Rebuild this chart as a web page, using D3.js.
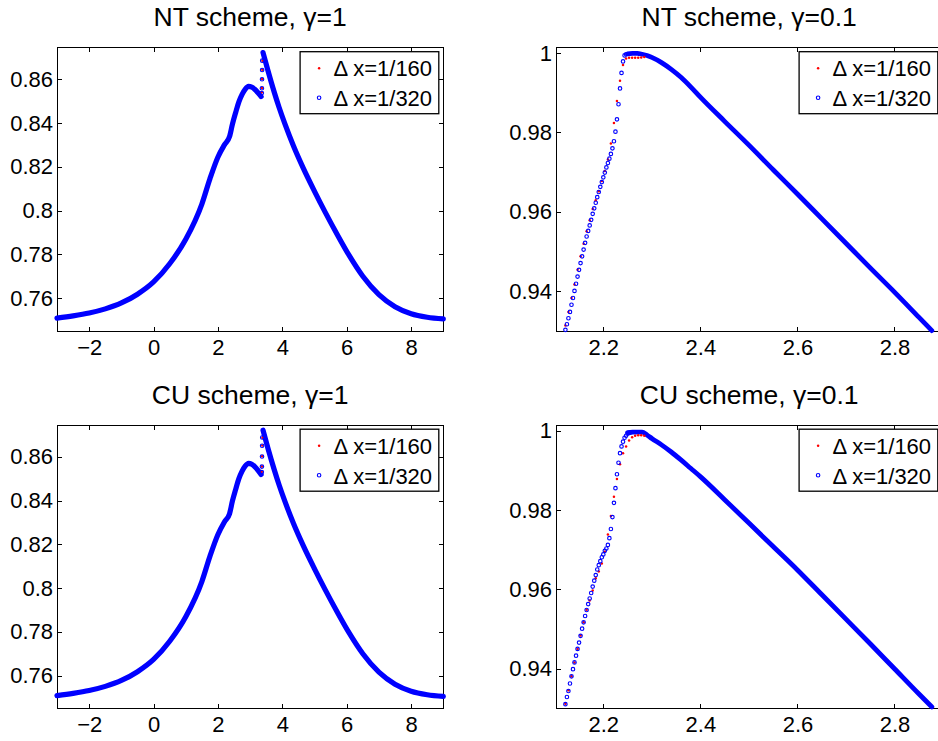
<!DOCTYPE html>
<html><head><meta charset="utf-8">
<script src="https://cdn.jsdelivr.net/npm/d3@7"></script>
<style>
html,body{margin:0;padding:0;background:#fff;}
svg{display:block;font-family:"Liberation Sans",Arial,Helvetica,sans-serif;}
</style></head><body>
<svg id="chart" width="938" height="741"></svg>
<script>
// ---------------- data ----------------
const titles = ["NT scheme, \u03b3=1", "NT scheme, \u03b3=0.1", "CU scheme, \u03b3=1", "CU scheme, \u03b3=0.1"];
const legendLabels = ["\u0394 x=1/160", "\u0394 x=1/320"];

const leftXDomain = [-3, 9];
const leftYDomain = [0.745, 0.8745];
const rightXDomain = [2.1025, 2.8985];
const rightYDomain = [0.93, 1.0014];

const leftXTicks = [-2, 0, 2, 4, 6, 8];
const leftXTickLabels = ["\u22122", "0", "2", "4", "6", "8"];
const leftYTicks = [0.76, 0.78, 0.8, 0.82, 0.84, 0.86];
const leftYTickLabels = ["0.76", "0.78", "0.8", "0.82", "0.84", "0.86"];
const rightXTicks = [2.2, 2.4, 2.6, 2.8];
const rightXTickLabels = ["2.2", "2.4", "2.6", "2.8"];
const rightYTicks = [0.94, 0.96, 0.98, 1];
const rightYTickLabels = ["0.94", "0.96", "0.98", "1"];

// gamma = 1 : smooth part left of the shock
const g1LeftX = [-3, -2.5, -2, -1.5, -1, -0.5, 0, 0.5, 1, 1.5, 1.75, 2, 2.2, 2.36, 2.45, 2.55, 2.65, 2.75, 2.85, 2.95, 3.05, 3.15, 3.25, 3.34];
const ntG1LeftY = [0.7509, 0.7519, 0.7532, 0.7551, 0.7578, 0.7618, 0.7674, 0.7757, 0.7869, 0.8030, 0.8145, 0.8245, 0.8300, 0.8338, 0.8395, 0.8448, 0.8497, 0.8531, 0.8555, 0.8567, 0.8564, 0.8553, 0.8537, 0.8521];
const cuG1LeftY = [0.7509, 0.7519, 0.7532, 0.7551, 0.7578, 0.7618, 0.7674, 0.7757, 0.7869, 0.8030, 0.8145, 0.8245, 0.8302, 0.8340, 0.8398, 0.8451, 0.8500, 0.8534, 0.8558, 0.8570, 0.8566, 0.8554, 0.8537, 0.8519];
// gamma = 1 : smooth part right of the shock
const g1RightX = [3.40, 3.55, 3.75, 3.9, 4.08, 4.35, 4.65, 5.0, 5.33, 5.7, 6.08, 6.5, 7.0, 7.5, 8.0, 8.5, 9.0];
const ntG1RightY = [0.8722, 0.8641, 0.8540, 0.8471, 0.8396, 0.8294, 0.8194, 0.8088, 0.7993, 0.7892, 0.7794, 0.7700, 0.7616, 0.7561, 0.7529, 0.7513, 0.7505];
const cuG1RightY = [0.8721, 0.8640, 0.8540, 0.8471, 0.8396, 0.8294, 0.8194, 0.8088, 0.7993, 0.7892, 0.7794, 0.7700, 0.7616, 0.7561, 0.7529, 0.7513, 0.7505];
// gamma = 1 : points inside the shock
const g1ShockX320 = [3.3625, 3.3656, 3.3688, 3.3719, 3.3750];
const ntG1Shock320 = [0.8537, 0.8559, 0.8600, 0.8642, 0.8685];
const cuG1Shock320 = [0.8530, 0.8555, 0.8601, 0.8650, 0.8688];
const g1ShockX160 = [3.3594, 3.3656, 3.3719, 3.3781, 3.3844];
const ntG1Shock160 = [0.8541, 0.8560, 0.8601, 0.8643, 0.8684];
const cuG1Shock160 = [0.8533, 0.8556, 0.8602, 0.8651, 0.8687];

// gamma = 0.1 : rising front, dx = 1/320
const g01RiseX320 = [2.1219, 2.1250, 2.1281, 2.1313, 2.1344, 2.1375, 2.1406, 2.1438, 2.1469, 2.1500,
  2.1531, 2.1563, 2.1594, 2.1625, 2.1656, 2.1688, 2.1719, 2.1750, 2.1781, 2.1813,
  2.1844, 2.1875, 2.1906, 2.1938, 2.1969, 2.2000, 2.2031, 2.2063, 2.2094, 2.2125,
  2.2156, 2.2188, 2.2219, 2.2250, 2.2281, 2.2313, 2.2344, 2.2375, 2.2406, 2.2438,
  2.2469, 2.2500, 2.2531, 2.2563];
const ntG01Rise320 = [0.9303, 0.9317, 0.9332, 0.9348, 0.9366, 0.9383, 0.9401, 0.9419, 0.9437, 0.9454,
  0.9471, 0.9488, 0.9505, 0.9522, 0.9538, 0.9552, 0.9566, 0.9580, 0.9595, 0.9609,
  0.9623, 0.9637, 0.9650, 0.9663, 0.9675, 0.9687, 0.9699, 0.9712, 0.9723, 0.9734,
  0.9746, 0.9760, 0.9778, 0.9802, 0.9833, 0.9871, 0.9911, 0.9950, 0.9979, 0.9994, 0.9997];
const cuG01Rise320 = [0.9311, 0.9329, 0.9344, 0.9363, 0.9381, 0.9399, 0.9416, 0.9433, 0.9450, 0.9466,
  0.9483, 0.9501, 0.9517, 0.9533, 0.9548, 0.9563, 0.9577, 0.9591, 0.9607, 0.9622,
  0.9636, 0.9650, 0.9661, 0.9671, 0.9681, 0.9688, 0.9697, 0.9703, 0.9712, 0.9729,
  0.9752, 0.9782, 0.9818, 0.9855, 0.9890, 0.9919, 0.9943, 0.9960, 0.9972, 0.9982,
  0.9987, 0.9992, 0.9994, 0.9995];
// gamma = 0.1 : rising front, dx = 1/160
const g01RiseX160 = [2.1219, 2.1281, 2.1344, 2.1406, 2.1469, 2.1531, 2.1594, 2.1656, 2.1719, 2.1781,
  2.1844, 2.1906, 2.1969, 2.2031, 2.2094, 2.2156, 2.2219, 2.2281, 2.2344, 2.2406,
  2.2469, 2.2531, 2.2594, 2.2656, 2.2719, 2.2781, 2.2844];
const ntG01Rise160 = [0.9314, 0.9348, 0.9383, 0.9417, 0.9454, 0.9488, 0.9520, 0.9551, 0.9579, 0.9607,
  0.9629, 0.9652, 0.9678, 0.9703, 0.9732, 0.9772, 0.9824, 0.9879, 0.9930, 0.9970,
  0.9986, 0.9988, 0.9988, 0.9988, 0.9988, 0.9989, 0.9990];
const cuG01Rise160 = [0.9312, 0.9346, 0.9381, 0.9416, 0.9450, 0.9484, 0.9517, 0.9549, 0.9572, 0.9597,
  0.9628, 0.9645, 0.9665, 0.9695, 0.9738, 0.9785, 0.9833, 0.9878, 0.9915, 0.9943,
  0.9960, 0.9975, 0.9983, 0.9987, 0.9988, 0.9988, 0.9987];
// gamma = 0.1 : top and decreasing tail
const g01FallX = [2.25, 2.26, 2.27, 2.28, 2.29, 2.30, 2.32, 2.34, 2.36, 2.38, 2.40, 2.45, 2.50, 2.55, 2.60, 2.65, 2.70, 2.75, 2.80, 2.85, 2.877];
const ntG01FallY = [0.9998, 0.9999, 0.9999, 0.9997, 0.9994, 0.9989, 0.9976, 0.9959, 0.9939, 0.9915, 0.9889, 0.9828, 0.9768, 0.9706, 0.9645, 0.9583, 0.9521, 0.9459, 0.9398, 0.9335, 0.9301];
const cuG01FallY = [0.9995, 0.9996, 0.9996, 0.9996, 0.9989, 0.9980, 0.9964, 0.9946, 0.9926, 0.9905, 0.9884, 0.9826, 0.9767, 0.9708, 0.9649, 0.9587, 0.9525, 0.9463, 0.9400, 0.9337, 0.9304];

// ---------------- layout ----------------
const PW = 386.3, PH = 283.5;
const RED = "#ff0000", BLUE = "#0000ff";
const FONT = "'Liberation Sans', Arial, Helvetica, sans-serif";
const TICK_FS = 22, LEG_FS = 22, TITLE_FS = 26.5;
const zip = (xs, ys) => ys.map((v, i) => [xs[i], v]);

const panels = [
  { left: 57, top: 47.5, title: titles[0], xd: leftXDomain, yd: leftYDomain,
    xt: leftXTicks, xl: leftXTickLabels, yt: leftYTicks, yl: leftYTickLabels,
    redUnder: [zip(g1LeftX, ntG1LeftY), zip(g1RightX, ntG1RightY)],
    bands: [zip(g1LeftX, ntG1LeftY), zip(g1RightX, ntG1RightY)], bandW: 5.2,
    redOver: [zip(g1ShockX160, ntG1Shock160)],
    circles: [zip(g1ShockX320, ntG1Shock320)] },
  { left: 556, top: 47.5, title: titles[1], xd: rightXDomain, yd: rightYDomain,
    xt: rightXTicks, xl: rightXTickLabels, yt: rightYTicks, yl: rightYTickLabels,
    redUnder: [zip(g01FallX, ntG01FallY)],
    bands: [zip(g01FallX, ntG01FallY)], bandW: 4.8,
    redOver: [zip(g01RiseX160, ntG01Rise160)],
    circles: [zip(g01RiseX320, ntG01Rise320)] },
  { left: 57, top: 425, title: titles[2], xd: leftXDomain, yd: leftYDomain,
    xt: leftXTicks, xl: leftXTickLabels, yt: leftYTicks, yl: leftYTickLabels,
    redUnder: [zip(g1LeftX, cuG1LeftY), zip(g1RightX, cuG1RightY)],
    bands: [zip(g1LeftX, cuG1LeftY), zip(g1RightX, cuG1RightY)], bandW: 5.2,
    redOver: [zip(g1ShockX160, cuG1Shock160)],
    circles: [zip(g1ShockX320, cuG1Shock320)] },
  { left: 556, top: 425, title: titles[3], xd: rightXDomain, yd: rightYDomain,
    xt: rightXTicks, xl: rightXTickLabels, yt: rightYTicks, yl: rightYTickLabels,
    redUnder: [zip(g01FallX, cuG01FallY)],
    bands: [zip(g01FallX, cuG01FallY)], bandW: 4.8,
    redOver: [zip(g01RiseX160, cuG01Rise160)],
    circles: [zip(g01RiseX320, cuG01Rise320)] }
];

const svg = d3.select("#chart");
svg.append("rect").attr("width", 938).attr("height", 741).attr("fill", "#fff");

function styleAxis(g) {
  g.attr("font-family", FONT).attr("font-size", TICK_FS).attr("color", "#000");
  g.select(".domain").remove();
  g.selectAll(".tick line").attr("stroke-width", 1).attr("shape-rendering", "crispEdges");
}

panels.forEach(p => {
  const x = d3.scaleLinear().domain(p.xd).range([p.left, p.left + PW]);
  const y = d3.scaleLinear().domain(p.yd).range([p.top + PH, p.top]);
  const g = svg.append("g");
  const TL = 4.5;

  // axes (ticks inside on all four sides)
  g.append("g").attr("transform", `translate(0,${p.top + PH})`)
    .call(d3.axisBottom(x).tickValues(p.xt).tickFormat((d, i) => p.xl[i]).tickSizeInner(-TL).tickSizeOuter(0).tickPadding(8))
    .call(styleAxis);
  g.append("g").attr("transform", `translate(0,${p.top})`)
    .call(d3.axisTop(x).tickValues(p.xt).tickFormat("").tickSizeInner(-TL).tickSizeOuter(0))
    .call(styleAxis);
  g.append("g").attr("transform", `translate(${p.left},0)`)
    .call(d3.axisLeft(y).tickValues(p.yt).tickFormat((d, i) => p.yl[i]).tickSizeInner(-TL).tickSizeOuter(0).tickPadding(4))
    .call(styleAxis);
  g.append("g").attr("transform", `translate(${p.left + PW},0)`)
    .call(d3.axisRight(y).tickValues(p.yt).tickFormat("").tickSizeInner(-TL).tickSizeOuter(0))
    .call(styleAxis);
  g.append("rect").attr("x", p.left).attr("y", p.top).attr("width", PW).attr("height", PH)
    .attr("fill", "none").attr("stroke", "#000").attr("stroke-width", 1).attr("shape-rendering", "crispEdges");

  // title
  g.append("text").attr("x", p.left + PW / 2).attr("y", p.top - 21.5)
    .attr("text-anchor", "middle").attr("font-family", FONT).attr("font-size", TITLE_FS)
    .attr("fill", "#000").text(p.title);

  // data
  const line = d3.line().x(d => x(d[0])).y(d => y(d[1])).curve(d3.curveMonotoneX);
  const dots = (sel, pts) => sel.selectAll(null).data(pts).join("circle")
    .attr("cx", d => x(d[0])).attr("cy", d => y(d[1])).attr("r", 1.25).attr("fill", RED);
  p.redUnder.forEach(s => dots(g.append("g"), s));
  p.bands.forEach(s => g.append("path").datum(s).attr("d", line)
    .attr("fill", "none").attr("stroke", BLUE).attr("stroke-width", p.bandW)
    .attr("stroke-linecap", "round").attr("stroke-linejoin", "round"));
  p.redOver.forEach(s => dots(g.append("g"), s));
  p.circles.forEach(s => g.append("g").selectAll(null).data(s).join("circle")
    .attr("cx", d => x(d[0])).attr("cy", d => y(d[1])).attr("r", 1.75)
    .attr("fill", "none").attr("stroke", BLUE).attr("stroke-width", 1.15));

  // legend
  const lw = 138.7, lh = 62;
  const lx = p.left + PW - 4.5 - lw, ly = p.top + 4.2;
  const lg = g.append("g").attr("transform", `translate(${lx},${ly})`);
  lg.append("rect").attr("width", lw).attr("height", lh).attr("fill", "#fff")
    .attr("stroke", "#000").attr("stroke-width", 1.3);
  lg.append("circle").attr("cx", 19).attr("cy", 16.6).attr("r", 1.25).attr("fill", RED);
  lg.append("circle").attr("cx", 19).attr("cy", 46).attr("r", 1.75).attr("fill", "none")
    .attr("stroke", BLUE).attr("stroke-width", 1.15);
  lg.selectAll("text.lab").data(legendLabels).join("text").attr("class", "lab")
    .attr("x", 33.5).attr("y", (d, i) => 24.5 + i * 30)
    .attr("font-family", FONT).attr("font-size", LEG_FS).attr("fill", "#000").text(d => d);
});
</script>
</body></html>
